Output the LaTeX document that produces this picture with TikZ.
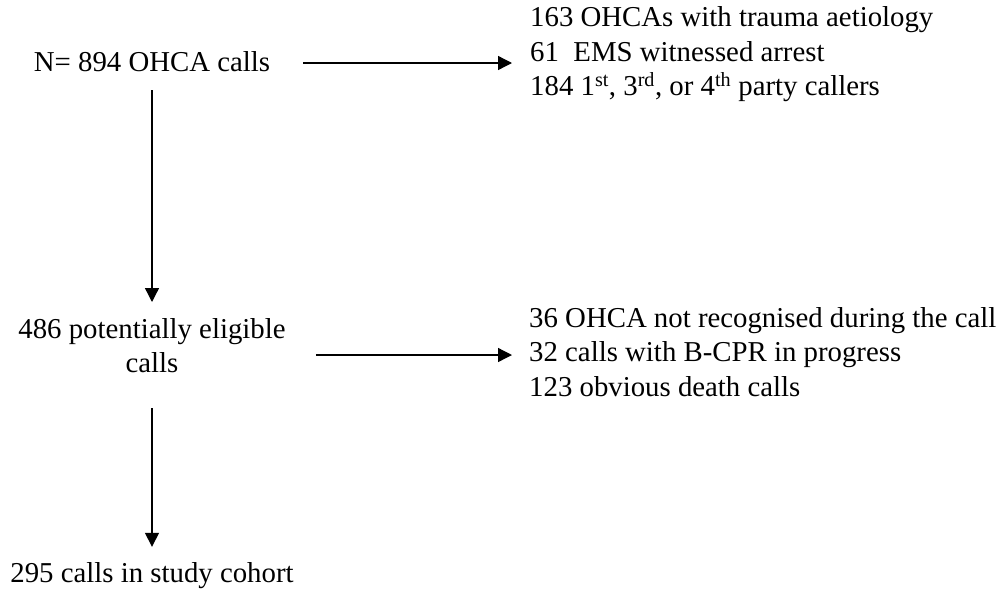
\documentclass[tikz,border=0pt]{standalone}
\usepackage{fontspec}
\setmainfont{Liberation Serif}
\usepackage{tikz}
\usetikzlibrary{arrows.meta,positioning}
\tikzset{
  ftxt/.style={inner sep=0pt, font=\fontsize{28.8}{34.5}\selectfont},
  flist/.style={ftxt, align=left},
  farr/.style={-{Triangle[length=14pt,width=14pt]}, line width=1.3pt}
}

\begin{document}
\begin{tikzpicture}[x=1pt,y=1pt]
\useasboundingbox (0,0) rectangle (998,-590);
\node[ftxt, anchor=base] (a1) at (152,-71) {N= 894 OHCA calls};
\node[flist, above right=64.3pt and 378pt of a1.base, anchor=north west] (a2) {163 OHCAs with trauma aetiology\\61\enspace EMS witnessed arrest\\184 1\textsuperscript{st}, 3\textsuperscript{rd}, or 4\textsuperscript{th} party callers};
\node[ftxt, align=center, below=247pt of a1.base] (a3) {486 potentially eligible\\calls};
\node[flist, above right=11pt and 377pt of a3.north, anchor=north west] (a4) {36 OHCA not recognised during the call\\32 calls with B-CPR in progress\\123 obvious death calls};
\node[ftxt, below=511pt of a1.base, anchor=base] (a5) {295 calls in study cohort};
\draw[farr, shorten <=33pt, shorten >=18pt] ([yshift=8pt]a1.base east) -- ([yshift=8pt]a1.base east -| a2.west);
\draw[farr, shorten <=19pt, shorten >=16pt] (a1.base) -- (a1.base |- a3.north);
\draw[farr, shorten <=30pt, shorten >=17pt] ([yshift=-37pt]a3.north east) -- ([yshift=-37pt]a3.north east -| a4.west);
\draw[farr, shorten <=35pt, shorten >=15pt] (a1.base |- a3.south) -- (a1.base |- a5.north);
\end{tikzpicture}
\end{document}
